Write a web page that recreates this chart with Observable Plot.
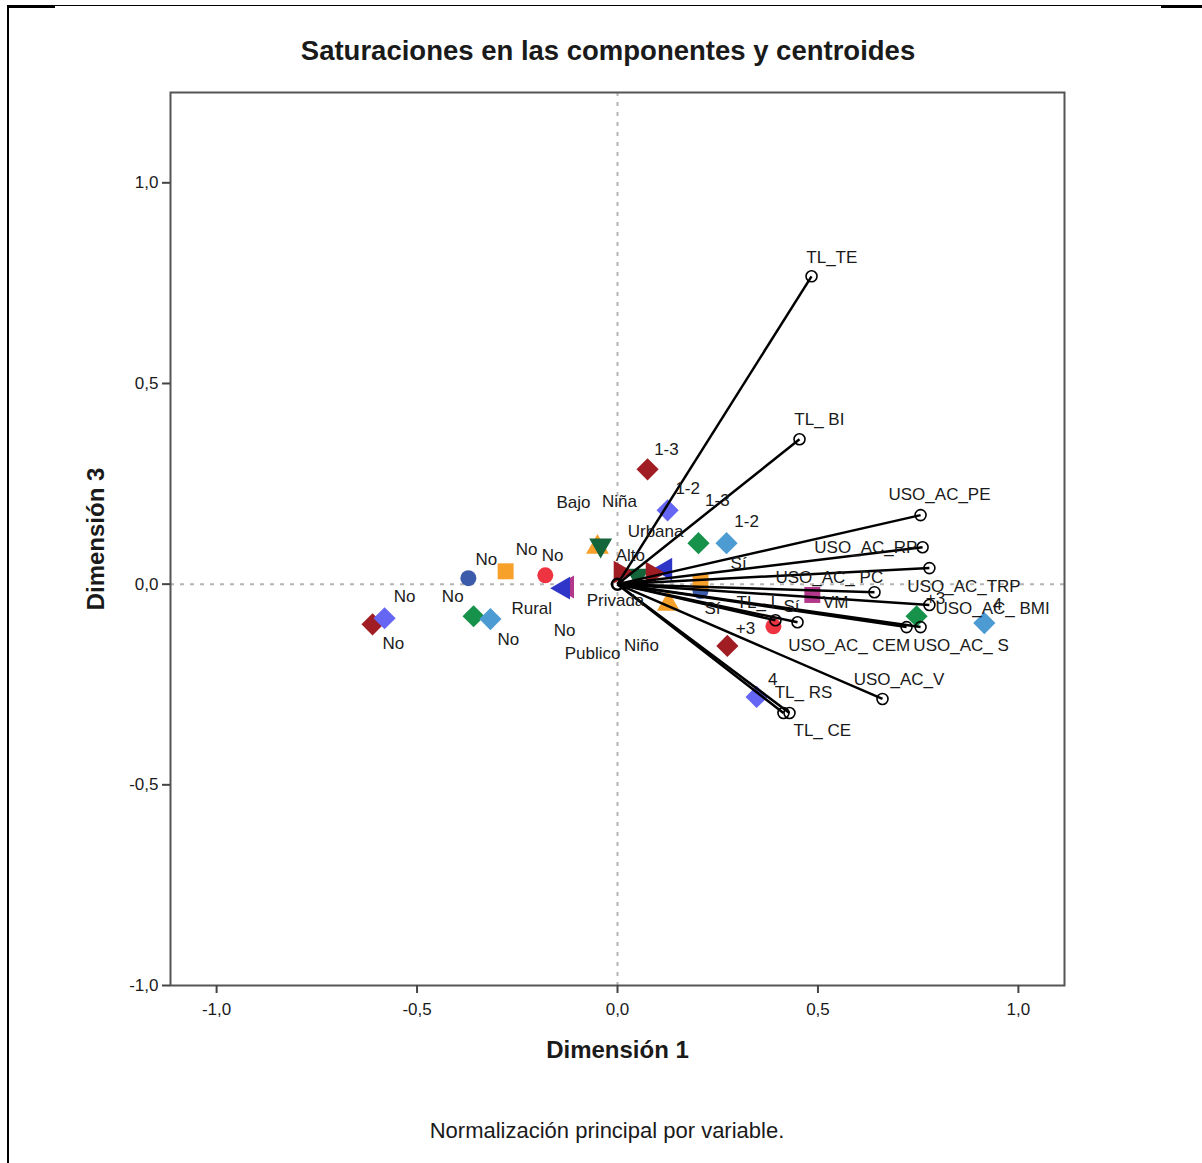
<!DOCTYPE html>
<html>
<head>
<meta charset="utf-8">
<script src="https://cdn.jsdelivr.net/npm/d3@7"></script>
<script src="https://cdn.jsdelivr.net/npm/@observablehq/plot@0.6"></script>
<style>
  html, body { margin: 0; padding: 0; background: #fff; }
  #page { position: relative; width: 1202px; height: 1163px; overflow: hidden; font-family: "Liberation Sans", Arial, sans-serif; color: #1a1a1a; }
  #chart { position: absolute; left: 0; top: 0; }
  .title { position: absolute; left: 7px; width: 1202px; top: 35px; line-height: 32px; text-align: center; font-size: 27.5px; font-weight: bold; }
  .caption { position: absolute; left: 6px; width: 1202px; top: 1117px; line-height: 28px; text-align: center; font-size: 22px; }
  .bl { position: absolute; left: 7px; top: 5px; width: 2px; height: 1158px; background: #000; }
  .bt { position: absolute; left: 7px; top: 5px; width: 1195px; height: 1px; background: #000; }
  .bt1 { position: absolute; left: 7px; top: 5px; width: 48px; height: 3px; background: #000; }
  .bt2 { position: absolute; left: 1161px; top: 5px; width: 41px; height: 3px; background: #000; }
</style>
</head>
<body>
<div id="page">
  <div class="bl"></div><div class="bt"></div><div class="bt1"></div><div class="bt2"></div>
  <div class="title">Saturaciones en las componentes y centroides</div>
  <div id="chart"></div>
  <div class="caption">Normalización principal por variable.</div>
</div>
<script>
// ---- Component loadings (vectors) ----
const varNames = ["TL_TE", "TL_ BI", "USO_AC_PE", "USO_AC_RP", "USO_AC_TRP", "USO_AC_ PC", "USO_AC_ BMI",
                  "USO_AC_ CEM", "USO_AC_ S", "USO_AC_V", "TL_ RS", "TL_ CE", "TL_ I", ""];
const varX = [0.484, 0.454, 0.756, 0.761, 0.778, 0.641, 0.778, 0.721, 0.756, 0.661, 0.414, 0.429, 0.394, 0.449];
const varY = [0.767, 0.361, 0.172, 0.092, 0.040, -0.020, -0.052, -0.107, -0.107, -0.286, -0.321, -0.321, -0.090, -0.095];
// label anchor (left edge) of each loading, in data units
const varLabX = [0.471, 0.441, 0.676, 0.491, 0.723, 0.394, 0.793, 0.426, 0.738, 0.589, 0.392, 0.439, 0.297, 0.449];
const varLabY = [0.814, 0.411, 0.224, 0.092, -0.005, 0.017, -0.062, -0.152, -0.152, -0.237, -0.271, -0.366, -0.045, -0.095];

// ---- Category centroids ----
const cenSeries = [10, 10, 9, 9, 0, 0, 0, 1, 1, 1, 2, 2, 2, 3, 3, 3, 4, 4, 5, 5, 6, 6, 7, 8, 8, 11, 11, 12];
const cenX = [-0.050, 0.127, -0.042, 0.050, 0.075, -0.611, 0.274, 0.125, -0.581, 0.347, 0.202, -0.359, 0.746,
              0.272, -0.317, 0.915, -0.372, 0.207, -0.279, 0.207, -0.180, 0.389, -0.125, -0.135, 0.120, 0.007, 0.087, 0.486];
const cenY = [0.092, -0.050, 0.097, 0.022, 0.286, -0.100, -0.154, 0.184, -0.085, -0.281, 0.102, -0.080, -0.080,
              0.102, -0.087, -0.097, 0.015, -0.017, 0.032, 0.005, 0.022, -0.105, -0.007, -0.010, 0.037, 0.030, 0.027, -0.027];

// ---- Centroid category labels ----
const labText = ["1-3", "1-2", "1-3", "1-2", "Bajo", "Niña", "Urbana", "Alto", "Sí", "No", "No", "No", "No", "No",
                 "Rural", "Privada", "No", "No", "No", "Publico", "Niño", "Sí", "Sí", "+3", "VM", "4", "+3", "4"];
const labX = [0.122, 0.175, 0.249, 0.322, -0.110, 0.005, 0.095, 0.032, 0.302, -0.327, -0.227, -0.162, -0.531, -0.411,
              -0.214, -0.005, -0.132, -0.559, -0.272, -0.062, 0.060, 0.237, 0.434, 0.319, 0.544, 0.387, 0.793, 0.948];
const labY = [0.336, 0.237, 0.209, 0.157, 0.204, 0.207, 0.130, 0.072, 0.052, 0.062, 0.087, 0.072, -0.032, -0.032,
              -0.062, -0.040, -0.115, -0.147, -0.139, -0.172, -0.152, -0.060, -0.055, -0.110, -0.047, -0.237, -0.035, -0.050];

const xTicks = [-1, -0.5, 0, 0.5, 1];
const yTicks = [-1, -0.5, 0, 0.5, 1];

// ---- styles per centroid series ----
const seriesStyle = [
  {fill: "#a11d24", symbol: "diamond2", rotate: 0, r: 10},
  {fill: "#6666f4", symbol: "diamond2", rotate: 0, r: 10},
  {fill: "#16924a", symbol: "diamond2", rotate: 0, r: 10},
  {fill: "#4c9bd2", symbol: "diamond2", rotate: 0, r: 10},
  {fill: "#3c5cab", symbol: "circle", rotate: 0, r: 8},
  {fill: "#f7a02a", symbol: "square", rotate: 0, r: 9},
  {fill: "#ee3440", symbol: "circle", rotate: 0, r: 8},
  {fill: "#b3388c", symbol: "triangle", rotate: -90, r: 8.5},
  {fill: "#2f35c9", symbol: "triangle", rotate: -90, r: 8.5},
  {fill: "#15653a", symbol: "triangle", rotate: 180, r: 8.5},
  {fill: "#f7a02a", symbol: "triangle", rotate: 0, r: 8.5},
  {fill: "#a11d24", symbol: "triangle", rotate: 90, r: 8.5},
  {fill: "#b3388c", symbol: "square", rotate: 0, r: 9}
];

const loadings = varNames.map((n, i) => ({name: n, x: varX[i], y: varY[i], lx: varLabX[i], ly: varLabY[i]}));
const centroids = cenSeries.map((s, i) => ({s, x: cenX[i], y: cenY[i]}));
const labels = labText.map((t, i) => ({t, x: labX[i], y: labY[i]}));

const fmt = d => d.toFixed(1).replace(".", ",");

const centroidMarks = centroids.map(c => {
  const st = seriesStyle[c.s];
  return Plot.dot([c], {x: "x", y: "y", symbol: st.symbol, fill: st.fill, r: st.r, rotate: st.rotate, stroke: "none"});
});

const chart = Plot.plot({
  width: 1202,
  height: 1080,
  marginLeft: 170,
  marginRight: 138,
  marginTop: 92,
  marginBottom: 95,
  style: {fontFamily: "'Liberation Sans', Arial, sans-serif", background: "transparent", color: "#1a1a1a"},
  x: {domain: [-1.115, 1.115]},
  y: {domain: [-1.0, 1.225]},
  marks: [
    Plot.ruleX([0], {stroke: "#b4b4b4", strokeWidth: 2, strokeDasharray: "4,6"}),
    Plot.ruleY([0], {stroke: "#b4b4b4", strokeWidth: 2, strokeDasharray: "4,6"}),
    ...centroidMarks,
    Plot.link(loadings, {x1: () => 0, y1: () => 0, x2: "x", y2: "y", stroke: "#000", strokeWidth: 2.5}),
    Plot.dot(loadings, {x: "x", y: "y", r: 5.5, stroke: "#000", strokeWidth: 1.6, fill: "none"}),
    Plot.dot([0], {x: () => 0, y: () => 0, r: 5.5, stroke: "#000", strokeWidth: 2.5, fill: "none"}),
    Plot.text(loadings, {x: "lx", y: "ly", text: "name", textAnchor: "start", fontSize: 17, fill: "#1a1a1a"}),
    Plot.text(labels, {x: "x", y: "y", text: "t", textAnchor: "middle", fontSize: 17, fill: "#1a1a1a"}),
    Plot.frame({stroke: "#555", strokeWidth: 2}),
    Plot.axisX({ticks: xTicks, tickFormat: fmt, tickSize: 8, tickPadding: 9, fontSize: 17, stroke: "#444", strokeWidth: 2, label: null}),
    Plot.axisY({ticks: yTicks, tickFormat: fmt, tickSize: 8, tickPadding: 4, fontSize: 17, stroke: "#444", strokeWidth: 2, label: null}),
    Plot.text(["Dimensión 1"], {frameAnchor: "bottom", dy: 72, textAnchor: "middle", fontSize: 24, fontWeight: "bold", fill: "#1a1a1a"}),
    Plot.text(["Dimensión 3"], {frameAnchor: "left", dx: -74, rotate: -90, textAnchor: "middle", fontSize: 24, fontWeight: "bold", fill: "#1a1a1a"})
  ]
});
document.getElementById("chart").appendChild(chart);
</script>
</body>
</html>
